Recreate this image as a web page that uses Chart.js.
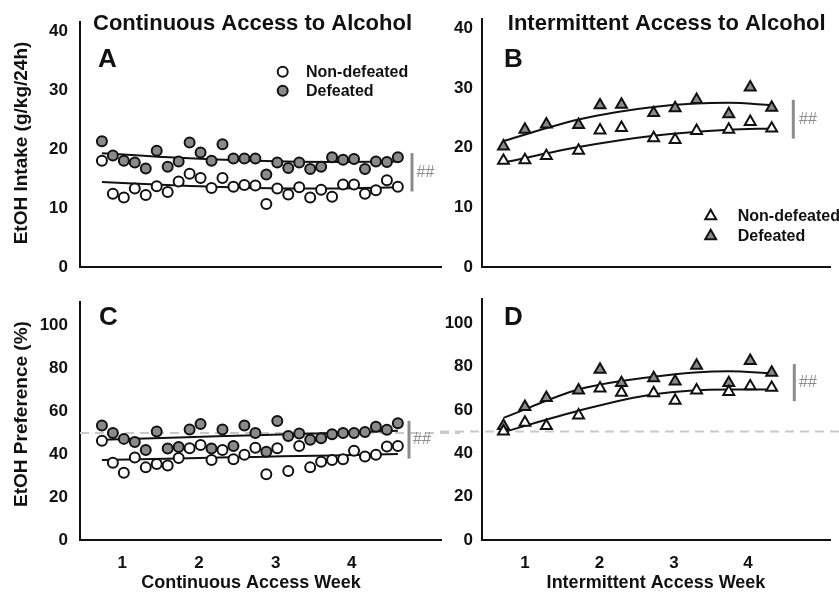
<!DOCTYPE html>
<html>
<head>
<meta charset="utf-8">
<script src="https://cdn.jsdelivr.net/npm/chart.js@4.4.0/dist/chart.umd.min.js"></script>
<style>
  html, body { margin: 0; padding: 0; background: #fff; }
  #wrap { position: relative; width: 839px; height: 592px; overflow: hidden; }
  canvas { position: absolute; }
</style>
</head>
<body>
<div id="wrap">
  <canvas id="cA" width="460" height="290" style="left:0;top:0;width:460px;height:290px"></canvas>
  <canvas id="cB" width="399" height="290" style="left:440px;top:0;width:399px;height:290px"></canvas>
  <canvas id="cC" width="460" height="312" style="left:0;top:280px;width:460px;height:312px"></canvas>
  <canvas id="cD" width="399" height="312" style="left:440px;top:280px;width:399px;height:312px"></canvas>
</div>
<script>
// daily sessions (continuous access) and Mon/Wed/Fri sessions (intermittent access)
var contDays = [1, 2, 3, 4, 5, 6, 7, 8, 9, 10, 11, 12, 13, 14, 15, 16, 17, 18, 19, 20, 21, 22, 23, 24, 25, 26, 27, 28];
var intDays = [1, 3, 5, 8, 10, 12, 15, 17, 19, 22, 24, 26];

// EtOH intake (g/kg/24h)
var contIntakeNon = [18.0, 12.4, 11.8, 13.3, 12.2, 13.7, 12.7, 14.5, 15.8, 15.1, 13.4, 15.1, 13.6, 13.9, 13.8, 10.7, 13.3, 12.3, 13.5, 11.8, 13.1, 11.9, 14.0, 14.0, 12.4, 13.0, 14.7, 13.6];
var contIntakeDef = [21.3, 18.9, 18.0, 17.7, 16.7, 19.7, 17.0, 17.9, 21.1, 19.4, 18.0, 20.8, 18.4, 18.4, 18.4, 15.7, 17.7, 16.8, 17.7, 16.6, 17.0, 18.6, 18.2, 18.3, 16.6, 17.9, 17.8, 18.6];
var intIntakeNon = [17.8, 17.9, 18.6, 19.5, 22.9, 23.3, 21.6, 21.3, 22.8, 23.0, 24.3, 23.2];
var intIntakeDef = [20.2, 23.0, 23.9, 23.8, 27.1, 27.2, 25.8, 26.6, 28.0, 25.6, 30.1, 26.7];

// EtOH preference (%)
var contPrefNon = [46.3, 36.1, 31.4, 38.5, 33.9, 35.5, 34.8, 38.3, 42.8, 44.3, 37.3, 42.0, 37.7, 39.8, 43.1, 30.7, 42.8, 32.2, 43.9, 33.9, 36.5, 37.3, 37.7, 41.7, 39.0, 39.8, 43.6, 43.9];
var contPrefDef = [53.4, 50.0, 47.2, 45.7, 42.0, 50.7, 42.7, 43.4, 51.6, 54.1, 42.7, 51.6, 43.9, 53.4, 50.0, 41.2, 55.6, 48.5, 49.7, 46.8, 47.5, 49.4, 50.0, 50.0, 50.4, 52.9, 51.5, 54.5];
var intPrefNon = [50.1, 54.1, 52.6, 57.5, 69.9, 68.0, 67.7, 64.3, 69.0, 68.3, 70.9, 70.2];
var intPrefDef = [52.6, 61.4, 65.5, 69.0, 78.6, 72.4, 74.6, 73.1, 80.4, 72.4, 82.6, 77.2];

// fitted trend curves at a few sessions
var contFitDays = [1, 8, 15, 22, 28];
var contIntakeNonFit = [14.4, 13.8, 13.4, 13.3, 13.5];
var contIntakeDefFit = [19.3, 18.5, 18.0, 17.8, 17.9];
var contPrefNonFit = [37.3, 38.1, 38.8, 39.5, 40.2];
var contPrefDefFit = [46.8, 47.9, 48.9, 50.0, 51.0];
var intFitDays = [1, 8, 15, 22, 26];
var intIntakeNonFit = [17.5, 20.1, 22.0, 23.0, 23.2];
var intIntakeDefFit = [21.1, 24.7, 26.8, 27.5, 27.1];
var intPrefNonFit = [49.7, 59.6, 67.2, 69.4, 69.4];
var intPrefDefFit = [56.3, 69.4, 75.3, 77.8, 76.8];

// group difference (##) bars: value span on the y axis
var sigIntakeCont = [19.3, 12.8];
var sigIntakeInt = [28.0, 21.5];
var sigPrefCont = [55.6, 38.0];
var sigPrefInt = [81.1, 64.0];
var prefChance = 50;

// axes
var intakeTicks = [0, 10, 20, 30, 40];
var prefTicks = [0, 20, 40, 60, 80, 100];
var contWeekTicks = [2.85, 9.85, 16.85, 23.8];
var intWeekTicks = [3, 9.95, 16.9, 23.8];
var weekLabels = ["1", "2", "3", "4"];
var groupLabels = ["Non-defeated", "Defeated"];

(function () {
  var FONT = "'Liberation Sans', Arial, Helvetica, sans-serif";
  var INK = "#111111";
  var FILL = "#8a8a8a";
  var SIG = "#8c8c8c";
  var CIRCLE_R = 5, TRI_R = 6.3, MARK_W = 2;
  Chart.defaults.font.family = FONT;
  Chart.defaults.color = INK;
  Chart.defaults.animation = false;

  function pts(xs, ys) {
    return xs.map(function (x, i) { return { x: x, y: ys[i] }; });
  }
  function pointSet(xs, ys, style, fill, r, order) {
    return {
      data: pts(xs, ys), showLine: false, pointStyle: style, pointRadius: r,
      pointHoverRadius: r, pointBackgroundColor: fill, pointBorderColor: INK,
      pointBorderWidth: MARK_W, order: order
    };
  }
  function fitSet(xs, ys) {
    return {
      data: pts(xs, ys), borderColor: INK, borderWidth: 2, pointRadius: 0,
      cubicInterpolationMode: "monotone", fill: false, order: 5
    };
  }

  function marker(ctx, style, x, y, r, fill) {
    ctx.beginPath();
    if (style === "triangle") {
      for (var k = 0; k < 3; k++) {
        var a = k * 2 * Math.PI / 3;
        var px = x + Math.sin(a) * r, py = y - Math.cos(a) * r;
        if (k === 0) ctx.moveTo(px, py); else ctx.lineTo(px, py);
      }
      ctx.closePath();
    } else {
      ctx.arc(x, y, r, 0, Math.PI * 2);
    }
    ctx.fillStyle = fill;
    ctx.fill();
    ctx.lineWidth = MARK_W;
    ctx.strokeStyle = INK;
    ctx.stroke();
  }

  // decoration per canvas: titles, panel letters, legend, ## bars, 50 % line
  var DECO = {};
  var deco = {
    id: "deco",
    beforeDatasetsDraw: function (chart) {
      var d = DECO[chart.canvas.id];
      if (!d || d.refFrom == null) return;
      var ctx = chart.ctx, y = chart.scales.y.getPixelForValue(prefChance);
      var x0 = d.refFrom === "axis" ? chart.chartArea.left : d.refFrom;
      ctx.save();
      ctx.setLineDash([9, 6]);
      ctx.strokeStyle = "#c9c9c9";
      ctx.lineWidth = 2;
      ctx.beginPath();
      ctx.moveTo(x0, y);
      ctx.lineTo(chart.width, y);
      ctx.stroke();
      ctx.restore();
    },
    afterDraw: function (chart) {
      var d = DECO[chart.canvas.id];
      if (!d) return;
      var ctx = chart.ctx, ys = chart.scales.y;
      ctx.save();
      ctx.textBaseline = "middle";
      (d.texts || []).forEach(function (t) {
        ctx.save();
        ctx.font = t.font + " " + FONT;
        ctx.fillStyle = t.color || INK;
        ctx.textAlign = t.align || "left";
        ctx.translate(t.x, t.y);
        if (t.rot) ctx.rotate(t.rot);
        ctx.fillText(t.t, 0, 0);
        ctx.restore();
      });
      if (d.legend) {
        var L = d.legend;
        var fills = ["#ffffff", FILL];
        groupLabels.forEach(function (lab, i) {
          var y = L.y + i * L.dy;
          marker(ctx, L.style, L.x, y, L.r, fills[i]);
          ctx.font = "bold 16px " + FONT;
          ctx.fillStyle = INK;
          ctx.textAlign = "left";
          ctx.fillText(lab, L.tx, y + 1);
        });
      }
      if (d.sig) {
        var s = d.sig;
        ctx.strokeStyle = SIG;
        ctx.lineWidth = 3;
        ctx.beginPath();
        ctx.moveTo(s.x, ys.getPixelForValue(s.span[0]));
        ctx.lineTo(s.x, ys.getPixelForValue(s.span[1]));
        ctx.stroke();
        ctx.font = "16px " + FONT;
        ctx.fillStyle = SIG;
        ctx.textAlign = "left";
        ctx.fillText("##", s.tx, (ys.getPixelForValue(s.span[0]) + ys.getPixelForValue(s.span[1])) / 2);
      }
      ctx.restore();
    }
  };

  function makeChart(id, c) {
    DECO[id] = c.deco;
    var tickFont = { size: 17, weight: "bold" };
    return new Chart(document.getElementById(id), {
      type: "line",
      data: { datasets: c.datasets },
      options: {
        responsive: false,
        animation: false,
        layout: { padding: { left: 0, right: c.padRight, top: c.padTop, bottom: 0 } },
        plugins: { legend: { display: false }, tooltip: { enabled: false } },
        scales: {
          x: {
            type: "linear", min: c.xMin, max: c.xMax,
            grid: { display: false, drawTicks: false },
            border: { display: true, color: INK, width: 2 },
            ticks: {
              display: !!c.xLabels, font: tickFont, color: INK, padding: 13,
              maxRotation: 0, autoSkip: false,
              callback: function (v, i) { return c.xLabels ? c.xLabels[i] : ""; }
            },
            afterBuildTicks: function (s) { s.ticks = c.xTicks.map(function (v) { return { value: v }; }); },
            afterFit: function (s) { s.height = c.xH; }
          },
          y: {
            type: "linear", min: 0, max: c.yMax,
            grid: { display: false, drawTicks: false },
            border: { display: true, color: INK, width: 2 },
            ticks: { font: tickFont, color: INK, padding: c.yPad, callback: function (v) { return String(v); } },
            afterBuildTicks: function (s) { s.ticks = c.yTicks.map(function (v) { return { value: v }; }); },
            afterFit: function (s) { s.width = c.yW; }
          }
        }
      },
      plugins: [deco]
    });
  }

  var HALF_PI = -Math.PI / 2;

  makeChart("cA", {
    padTop: 15, padRight: 18.3, xH: 23, yW: 80, yPad: 12, yMax: 41.5,
    xMin: -1, xMax: 32, xTicks: contWeekTicks, xLabels: null, yTicks: intakeTicks,
    datasets: [
      pointSet(contDays, contIntakeNon, "circle", "#ffffff", CIRCLE_R, 1),
      pointSet(contDays, contIntakeDef, "circle", FILL, CIRCLE_R, 2),
      fitSet(contFitDays, contIntakeNonFit),
      fitSet(contFitDays, contIntakeDefFit)
    ],
    deco: {
      texts: [
        { t: "Continuous Access to Alcohol", x: 252.5, y: 24, font: "bold 22px", align: "center" },
        { t: "A", x: 98, y: 60, font: "bold 26px" },
        { t: "EtOH Intake (g/kg/24h)", x: 22, y: 143, font: "bold 19px", align: "center", rot: HALF_PI }
      ],
      legend: { style: "circle", x: 282.7, y: 71.7, dy: 19, r: CIRCLE_R, tx: 306 },
      sig: { x: 412, span: sigIntakeCont, tx: 416.5 }
    }
  });

  makeChart("cB", {
    padTop: 15, padRight: 0, xH: 23, yW: 42, yPad: 9, yMax: 41.5,
    xMin: -1, xMax: 31.5, xTicks: intWeekTicks, xLabels: null, yTicks: intakeTicks,
    datasets: [
      pointSet(intDays, intIntakeNon, "triangle", "#ffffff", TRI_R, 1),
      pointSet(intDays, intIntakeDef, "triangle", FILL, TRI_R, 2),
      fitSet(intFitDays, intIntakeNonFit),
      fitSet(intFitDays, intIntakeDefFit)
    ],
    deco: {
      texts: [
        { t: "Intermittent Access to Alcohol", x: 226.7, y: 24, font: "bold 22px", align: "center" },
        { t: "B", x: 64, y: 60, font: "bold 26px" }
      ],
      legend: { style: "triangle", x: 270.7, y: 216, dy: 20, r: TRI_R, tx: 297.7 },
      sig: { x: 353.3, span: sigIntakeInt, tx: 359 }
    }
  });

  makeChart("cC", {
    padTop: 7, padRight: 18.3, xH: 52, yW: 80, yPad: 12, yMax: 111,
    xMin: -1, xMax: 32, xTicks: contWeekTicks, xLabels: weekLabels, yTicks: prefTicks,
    datasets: [
      pointSet(contDays, contPrefNon, "circle", "#ffffff", CIRCLE_R, 1),
      pointSet(contDays, contPrefDef, "circle", FILL, CIRCLE_R, 2),
      fitSet(contFitDays, contPrefNonFit),
      fitSet(contFitDays, contPrefDefFit)
    ],
    deco: {
      refFrom: "axis",
      texts: [
        { t: "C", x: 99, y: 38, font: "bold 26px" },
        { t: "EtOH Preference (%)", x: 22, y: 134, font: "bold 19px", align: "center", rot: HALF_PI },
        { t: "Continuous Access Week", x: 251, y: 303, font: "bold 18px", align: "center" }
      ],
      sig: { x: 409, span: sigPrefCont, tx: 413 }
    }
  });

  makeChart("cD", {
    padTop: 7, padRight: 0, xH: 52, yW: 42, yPad: 9, yMax: 111,
    xMin: -1, xMax: 31.5, xTicks: intWeekTicks, xLabels: weekLabels, yTicks: prefTicks,
    datasets: [
      pointSet(intDays, intPrefNon, "triangle", "#ffffff", TRI_R, 1),
      pointSet(intDays, intPrefDef, "triangle", FILL, TRI_R, 2),
      fitSet(intFitDays, intPrefNonFit),
      fitSet(intFitDays, intPrefDefFit)
    ],
    deco: {
      refFrom: 0,
      texts: [
        { t: "D", x: 64, y: 38, font: "bold 26px" },
        { t: "Intermittent Access Week", x: 216, y: 303, font: "bold 18px", align: "center" }
      ],
      sig: { x: 354.3, span: sigPrefInt, tx: 359 }
    }
  });
})();
</script>
</body>
</html>
